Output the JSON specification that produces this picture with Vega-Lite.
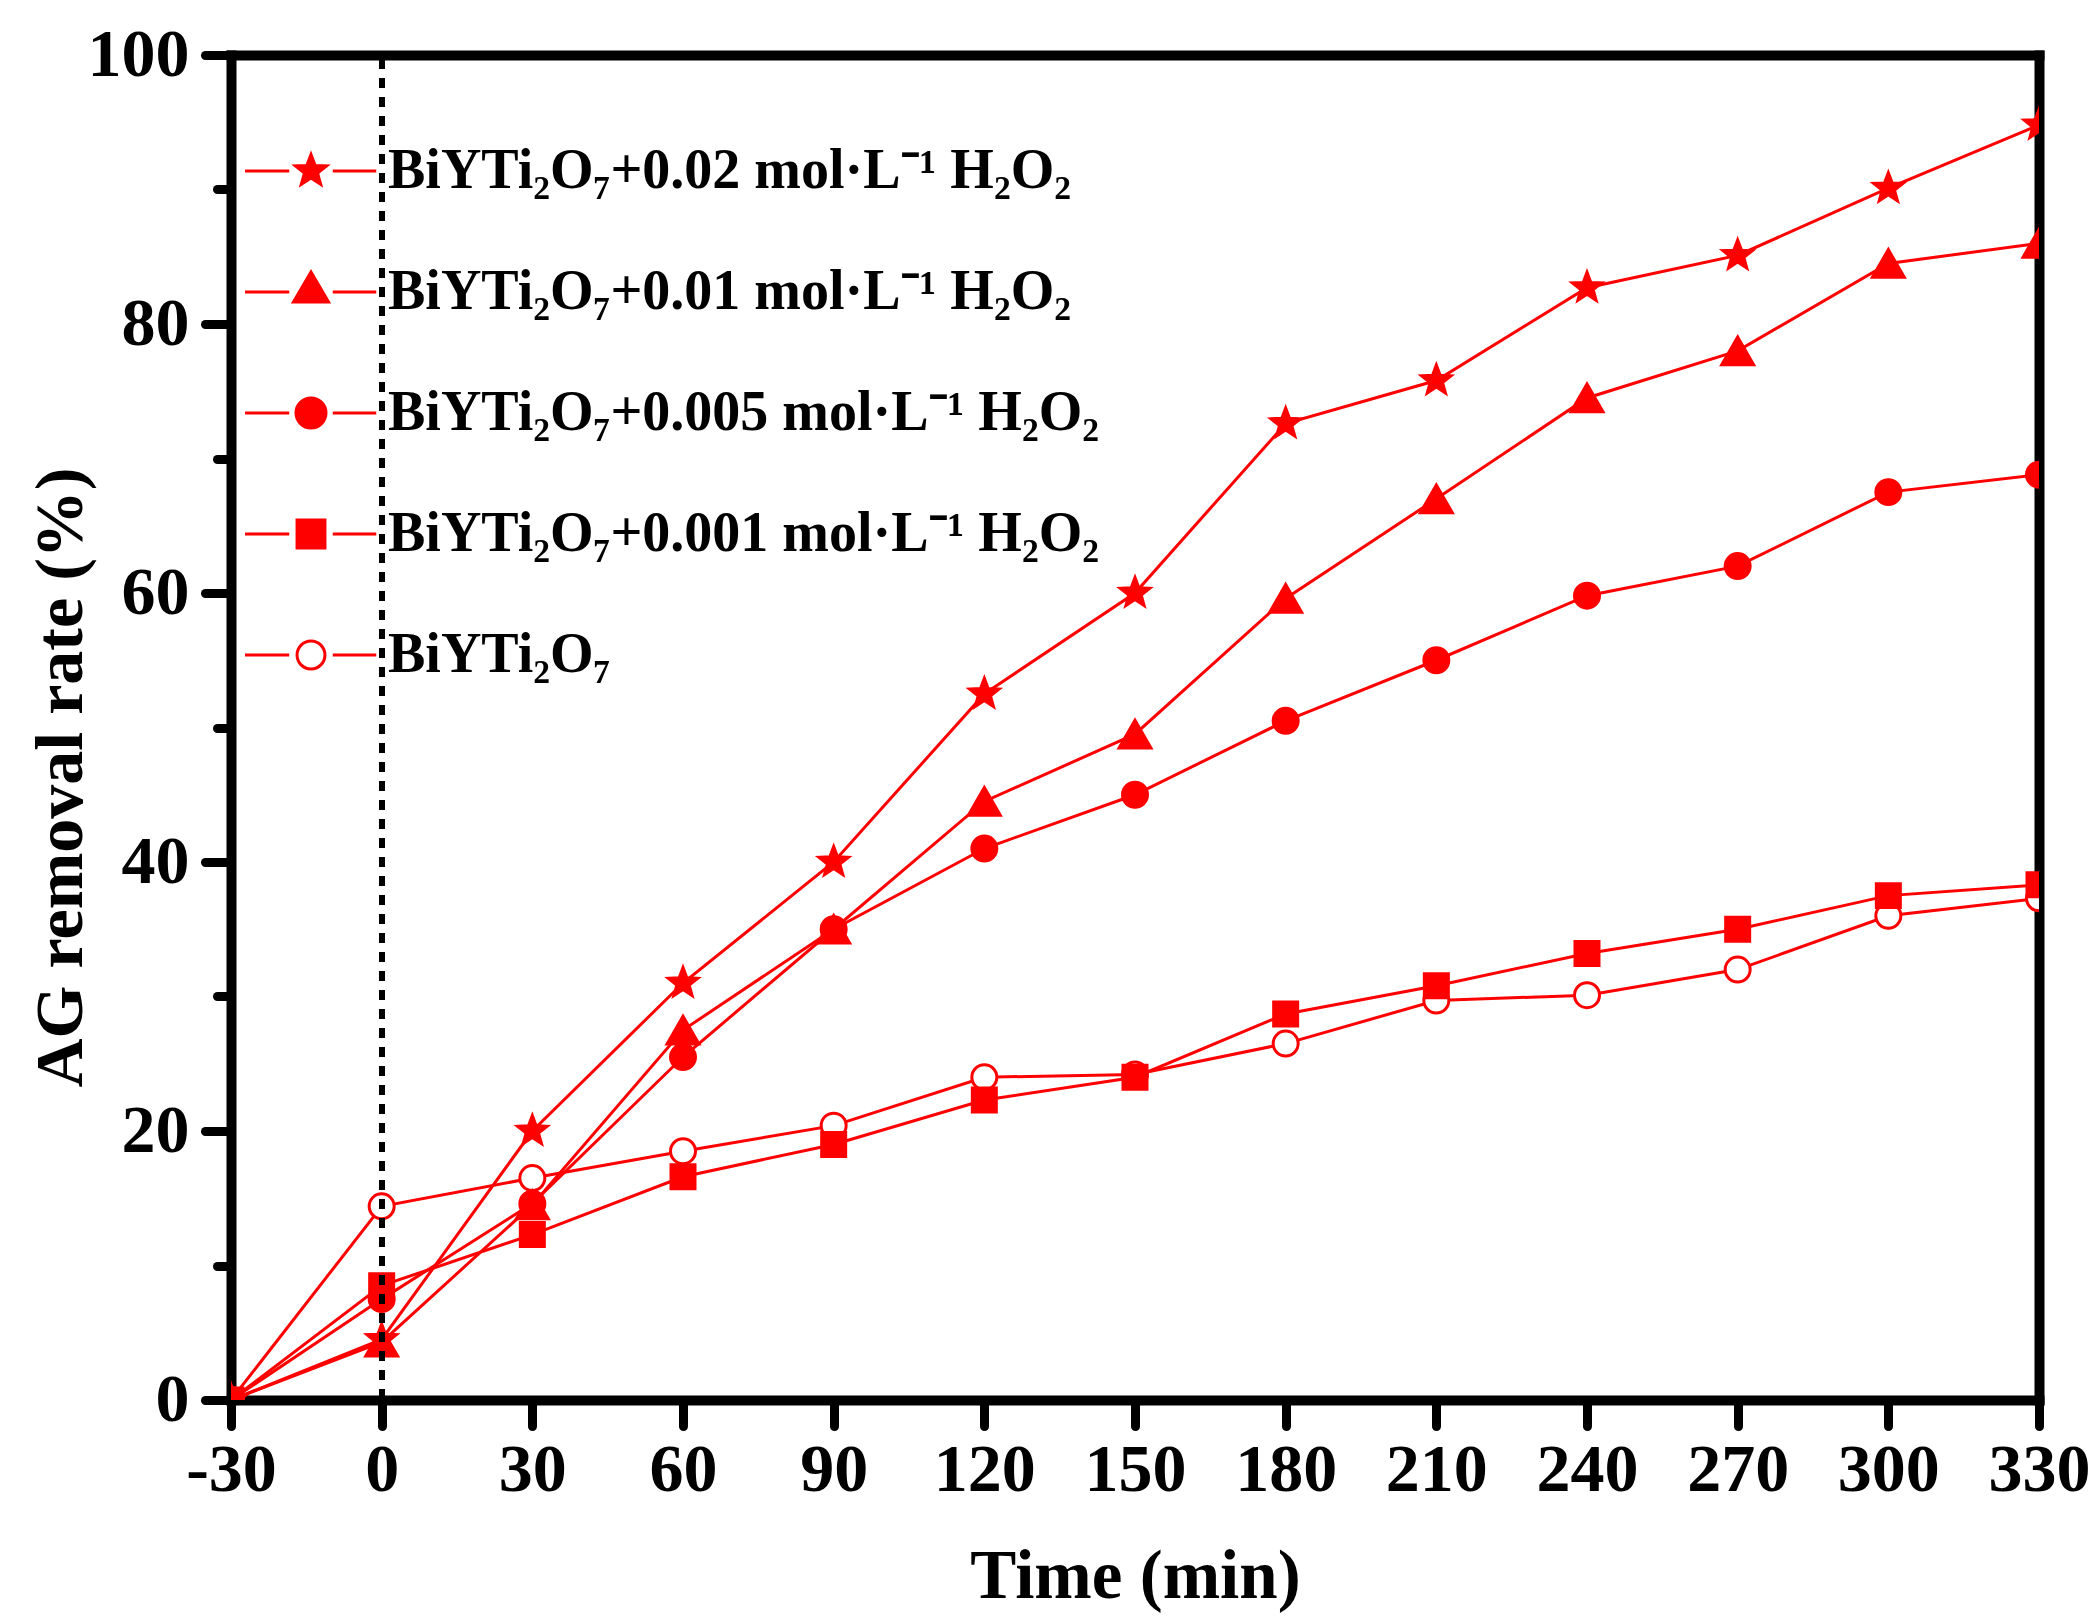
{
  "$schema": "https://vega.github.io/schema/vega-lite/v6.json",
  "width": 1808,
  "height": 1345,
  "autosize": {"type": "none"},
  "padding": {"left": 231, "top": 55, "right": 59, "bottom": 222},
  "background": "white",
  "config": {
    "view": {"stroke": null},
    "font": "Liberation Serif",
    "axis": {"grid": false, "domainColor": "black", "tickColor": "black", "labelColor": "black", "titleColor": "black", "zindex": 1}
  },
  "datasets": {
    "removal": [
      {"series": "BiYTi₂O₇", "time": -30, "rate": 0},
      {"series": "BiYTi₂O₇", "time": 0, "rate": 14.4},
      {"series": "BiYTi₂O₇", "time": 30, "rate": 16.5},
      {"series": "BiYTi₂O₇", "time": 60, "rate": 18.5},
      {"series": "BiYTi₂O₇", "time": 90, "rate": 20.4},
      {"series": "BiYTi₂O₇", "time": 120, "rate": 24.0},
      {"series": "BiYTi₂O₇", "time": 150, "rate": 24.2},
      {"series": "BiYTi₂O₇", "time": 180, "rate": 26.5},
      {"series": "BiYTi₂O₇", "time": 210, "rate": 29.7},
      {"series": "BiYTi₂O₇", "time": 240, "rate": 30.1},
      {"series": "BiYTi₂O₇", "time": 270, "rate": 32.0},
      {"series": "BiYTi₂O₇", "time": 300, "rate": 36.0},
      {"series": "BiYTi₂O₇", "time": 330, "rate": 37.3},
      {"series": "BiYTi₂O₇+0.001 mol·L⁻¹ H₂O₂", "time": -30, "rate": 0},
      {"series": "BiYTi₂O₇+0.001 mol·L⁻¹ H₂O₂", "time": 0, "rate": 8.5},
      {"series": "BiYTi₂O₇+0.001 mol·L⁻¹ H₂O₂", "time": 30, "rate": 12.3},
      {"series": "BiYTi₂O₇+0.001 mol·L⁻¹ H₂O₂", "time": 60, "rate": 16.6},
      {"series": "BiYTi₂O₇+0.001 mol·L⁻¹ H₂O₂", "time": 90, "rate": 19.0},
      {"series": "BiYTi₂O₇+0.001 mol·L⁻¹ H₂O₂", "time": 120, "rate": 22.3},
      {"series": "BiYTi₂O₇+0.001 mol·L⁻¹ H₂O₂", "time": 150, "rate": 24.0},
      {"series": "BiYTi₂O₇+0.001 mol·L⁻¹ H₂O₂", "time": 180, "rate": 28.7},
      {"series": "BiYTi₂O₇+0.001 mol·L⁻¹ H₂O₂", "time": 210, "rate": 30.8},
      {"series": "BiYTi₂O₇+0.001 mol·L⁻¹ H₂O₂", "time": 240, "rate": 33.2},
      {"series": "BiYTi₂O₇+0.001 mol·L⁻¹ H₂O₂", "time": 270, "rate": 35.0},
      {"series": "BiYTi₂O₇+0.001 mol·L⁻¹ H₂O₂", "time": 300, "rate": 37.5},
      {"series": "BiYTi₂O₇+0.001 mol·L⁻¹ H₂O₂", "time": 330, "rate": 38.3},
      {"series": "BiYTi₂O₇+0.005 mol·L⁻¹ H₂O₂", "time": -30, "rate": 0},
      {"series": "BiYTi₂O₇+0.005 mol·L⁻¹ H₂O₂", "time": 0, "rate": 7.5},
      {"series": "BiYTi₂O₇+0.005 mol·L⁻¹ H₂O₂", "time": 30, "rate": 14.6},
      {"series": "BiYTi₂O₇+0.005 mol·L⁻¹ H₂O₂", "time": 60, "rate": 25.5},
      {"series": "BiYTi₂O₇+0.005 mol·L⁻¹ H₂O₂", "time": 90, "rate": 35.0},
      {"series": "BiYTi₂O₇+0.005 mol·L⁻¹ H₂O₂", "time": 120, "rate": 41.0},
      {"series": "BiYTi₂O₇+0.005 mol·L⁻¹ H₂O₂", "time": 150, "rate": 45.0},
      {"series": "BiYTi₂O₇+0.005 mol·L⁻¹ H₂O₂", "time": 180, "rate": 50.5},
      {"series": "BiYTi₂O₇+0.005 mol·L⁻¹ H₂O₂", "time": 210, "rate": 55.0},
      {"series": "BiYTi₂O₇+0.005 mol·L⁻¹ H₂O₂", "time": 240, "rate": 59.8},
      {"series": "BiYTi₂O₇+0.005 mol·L⁻¹ H₂O₂", "time": 270, "rate": 62.0},
      {"series": "BiYTi₂O₇+0.005 mol·L⁻¹ H₂O₂", "time": 300, "rate": 67.5},
      {"series": "BiYTi₂O₇+0.005 mol·L⁻¹ H₂O₂", "time": 330, "rate": 68.8},
      {"series": "BiYTi₂O₇+0.01 mol·L⁻¹ H₂O₂", "time": -30, "rate": 0},
      {"series": "BiYTi₂O₇+0.01 mol·L⁻¹ H₂O₂", "time": 0, "rate": 4.3},
      {"series": "BiYTi₂O₇+0.01 mol·L⁻¹ H₂O₂", "time": 30, "rate": 14.5},
      {"series": "BiYTi₂O₇+0.01 mol·L⁻¹ H₂O₂", "time": 60, "rate": 27.5},
      {"series": "BiYTi₂O₇+0.01 mol·L⁻¹ H₂O₂", "time": 90, "rate": 35.0},
      {"series": "BiYTi₂O₇+0.01 mol·L⁻¹ H₂O₂", "time": 120, "rate": 44.5},
      {"series": "BiYTi₂O₇+0.01 mol·L⁻¹ H₂O₂", "time": 150, "rate": 49.5},
      {"series": "BiYTi₂O₇+0.01 mol·L⁻¹ H₂O₂", "time": 180, "rate": 59.6},
      {"series": "BiYTi₂O₇+0.01 mol·L⁻¹ H₂O₂", "time": 210, "rate": 67.0},
      {"series": "BiYTi₂O₇+0.01 mol·L⁻¹ H₂O₂", "time": 240, "rate": 74.5},
      {"series": "BiYTi₂O₇+0.01 mol·L⁻¹ H₂O₂", "time": 270, "rate": 78.0},
      {"series": "BiYTi₂O₇+0.01 mol·L⁻¹ H₂O₂", "time": 300, "rate": 84.5},
      {"series": "BiYTi₂O₇+0.01 mol·L⁻¹ H₂O₂", "time": 330, "rate": 86.0},
      {"series": "BiYTi₂O₇+0.02 mol·L⁻¹ H₂O₂", "time": -30, "rate": 0},
      {"series": "BiYTi₂O₇+0.02 mol·L⁻¹ H₂O₂", "time": 0, "rate": 4.5},
      {"series": "BiYTi₂O₇+0.02 mol·L⁻¹ H₂O₂", "time": 30, "rate": 20.0},
      {"series": "BiYTi₂O₇+0.02 mol·L⁻¹ H₂O₂", "time": 60, "rate": 31.0},
      {"series": "BiYTi₂O₇+0.02 mol·L⁻¹ H₂O₂", "time": 90, "rate": 40.0},
      {"series": "BiYTi₂O₇+0.02 mol·L⁻¹ H₂O₂", "time": 120, "rate": 52.5},
      {"series": "BiYTi₂O₇+0.02 mol·L⁻¹ H₂O₂", "time": 150, "rate": 60.0},
      {"series": "BiYTi₂O₇+0.02 mol·L⁻¹ H₂O₂", "time": 180, "rate": 72.6},
      {"series": "BiYTi₂O₇+0.02 mol·L⁻¹ H₂O₂", "time": 210, "rate": 75.8},
      {"series": "BiYTi₂O₇+0.02 mol·L⁻¹ H₂O₂", "time": 240, "rate": 82.7},
      {"series": "BiYTi₂O₇+0.02 mol·L⁻¹ H₂O₂", "time": 270, "rate": 85.1},
      {"series": "BiYTi₂O₇+0.02 mol·L⁻¹ H₂O₂", "time": 300, "rate": 90.1},
      {"series": "BiYTi₂O₇+0.02 mol·L⁻¹ H₂O₂", "time": 330, "rate": 94.8}
    ]
  },
  "data": {"name": "removal"},
  "layer": [
    {
      "mark": {"type": "line", "color": "#ff0000", "strokeWidth": 3, "clip": true},
      "encoding": {
        "x": {
          "field": "time",
          "type": "quantitative",
          "scale": {"domain": [-30, 330], "nice": false, "zero": false},
          "axis": {
            "orient": "bottom",
            "values": [-30, 0, 30, 60, 90, 120, 150, 180, 210, 240, 270, 300, 330],
            "labelExpr": "datum.value + ''",
            "labelFont": "Liberation Serif",
            "labelFontWeight": "bold",
            "labelFontSize": 68,
            "labelPadding": 10,
            "labelOverlap": false,
            "labelFlush": false,
            "tickSize": 26,
            "tickWidth": 9,
            "tickCap": "round",
            "domainWidth": 10,
            "domainCap": "square",
            "title": "Time (min)",
            "titleFont": "Liberation Serif",
            "titleFontWeight": "bold",
            "titleFontSize": 69,
            "titleBaseline": "alphabetic",
            "titleY": 197
          }
        },
        "y": {
          "field": "rate",
          "type": "quantitative",
          "scale": {"domain": [0, 100], "nice": false},
          "axis": {
            "orient": "left",
            "values": [0, 10, 20, 30, 40, 50, 60, 70, 80, 90, 100],
            "labelExpr": "datum.value % 20 === 0 ? datum.label : ''",
            "labelFont": "Liberation Serif",
            "labelFontWeight": "bold",
            "labelFontSize": 68,
            "labelPadding": 16,
            "labelOverlap": false,
            "labelFlush": false,
            "tickSize": {"condition": {"test": "datum.value % 20 === 0", "value": 26}, "value": 14},
            "tickWidth": 9,
            "tickCap": "round",
            "domainWidth": 10,
            "domainCap": "square",
            "title": "AG removal rate (%)",
            "titleFont": "Liberation Serif",
            "titleFontWeight": "bold",
            "titleFontSize": 68,
            "titleBaseline": "alphabetic",
            "titleAngle": 270,
            "titleX": -150,
            "titleY": 722
          }
        },
        "detail": {"field": "series", "type": "nominal"}
      }
    },
    {
      "mark": {"type": "point", "filled": true, "stroke": "#ff0000", "strokeWidth": 3, "size": 961, "opacity": 1, "clip": true},
      "encoding": {
        "x": {
          "field": "time",
          "type": "quantitative",
          "axis": {"orient": "top", "labels": false, "ticks": false, "title": null, "domainWidth": 10, "domainCap": "square"}
        },
        "y": {
          "field": "rate",
          "type": "quantitative",
          "axis": {"orient": "right", "labels": false, "ticks": false, "title": null, "domainWidth": 10, "domainCap": "square"}
        },
        "shape": {
          "field": "series",
          "type": "nominal",
          "scale": {
            "domain": ["BiYTi₂O₇", "BiYTi₂O₇+0.001 mol·L⁻¹ H₂O₂", "BiYTi₂O₇+0.005 mol·L⁻¹ H₂O₂", "BiYTi₂O₇+0.01 mol·L⁻¹ H₂O₂", "BiYTi₂O₇+0.02 mol·L⁻¹ H₂O₂"],
            "range": [
              "M0.806,0A0.806,0.806 0 1,1 -0.806,0A0.806,0.806 0 1,1 0.806,0Z",
              "M-0.774,-0.774H0.774V0.774H-0.774Z",
              "M0.806,0A0.806,0.806 0 1,1 -0.806,0A0.806,0.806 0 1,1 0.806,0Z",
              "M0,-0.894L1.03,0.894L-1.03,0.894Z",
              "M0,-1L0.247,-0.34L0.951,-0.309L0.399,0.13L0.588,0.809L0,0.42L-0.588,0.809L-0.399,0.13L-0.951,-0.309L-0.247,-0.34Z"
            ]
          },
          "legend": null
        },
        "fill": {
          "field": "series",
          "type": "nominal",
          "scale": {
            "domain": ["BiYTi₂O₇", "BiYTi₂O₇+0.001 mol·L⁻¹ H₂O₂", "BiYTi₂O₇+0.005 mol·L⁻¹ H₂O₂", "BiYTi₂O₇+0.01 mol·L⁻¹ H₂O₂", "BiYTi₂O₇+0.02 mol·L⁻¹ H₂O₂"],
            "range": ["#ffffff", "#ff0000", "#ff0000", "#ff0000", "#ff0000"]
          },
          "legend": null
        }
      }
    },
    {
      "transform": [{"filter": "false"}],
      "mark": {"type": "point", "filled": true, "stroke": "#ff0000", "strokeWidth": 3, "size": 900, "opacity": 1},
      "encoding": {
        "shape": {
          "field": "series",
          "type": "nominal",
          "scale": {
            "domain": ["BiYTi₂O₇+0.02 mol·L⁻¹ H₂O₂", "BiYTi₂O₇+0.01 mol·L⁻¹ H₂O₂", "BiYTi₂O₇+0.005 mol·L⁻¹ H₂O₂", "BiYTi₂O₇+0.001 mol·L⁻¹ H₂O₂", "BiYTi₂O₇"],
            "range": [
              "M-4.4,0H-1.45M1.45,0H4.35M0,-1.1L0.272,-0.374L1.046,-0.34L0.439,0.143L0.647,0.89L0,0.462L-0.647,0.89L-0.439,0.143L-1.046,-0.34L-0.272,-0.374Z",
              "M-4.4,0H-1.45M1.45,0H4.35M0,-1.33L1.17,0.67L-1.17,0.67Z",
              "M-4.4,0H-1.45M1.45,0H4.35M1,0A1,1 0 1,1 -1,0A1,1 0 1,1 1,0Z",
              "M-4.4,0H-1.45M1.45,0H4.35M-0.93,-0.93H0.93V0.93H-0.93Z",
              "M-4.4,0H-1.45M1.45,0H4.35M0.93,0A0.93,0.93 0 1,1 -0.93,0A0.93,0.93 0 1,1 0.93,0Z"
            ]
          },
          "legend": {
            "title": null,
            "orient": "none",
            "legendX": 52,
            "legendY": 88,
            "padding": 0,
            "symbolSize": 900,
            "symbolOpacity": 1,
            "symbolStrokeColor": "#ff0000",
            "symbolStrokeWidth": 3,
            "labelFont": "Liberation Serif",
            "labelFontWeight": "bold",
            "labelFontSize": 56,
            "labelColor": "black",
            "labelLimit": 0,
            "labelOffset": 49,
            "rowPadding": 65,
            "encode": {
              "symbols": {
                "update": {
                  "stroke": {"value": "#ff0000"},
                  "strokeWidth": {"value": 3},
                  "opacity": {"value": 1}
                }
              }
            }
          }
        },
        "fill": {
          "field": "series",
          "type": "nominal",
          "scale": {
            "domain": ["BiYTi₂O₇+0.02 mol·L⁻¹ H₂O₂", "BiYTi₂O₇+0.01 mol·L⁻¹ H₂O₂", "BiYTi₂O₇+0.005 mol·L⁻¹ H₂O₂", "BiYTi₂O₇+0.001 mol·L⁻¹ H₂O₂", "BiYTi₂O₇"],
            "range": ["#ff0000", "#ff0000", "#ff0000", "#ff0000", "#ffffff"]
          },
          "legend": {
            "title": null,
            "orient": "none",
            "legendX": 52,
            "legendY": 88,
            "padding": 0,
            "symbolSize": 900,
            "symbolOpacity": 1,
            "symbolStrokeColor": "#ff0000",
            "symbolStrokeWidth": 3,
            "labelFont": "Liberation Serif",
            "labelFontWeight": "bold",
            "labelFontSize": 56,
            "labelColor": "black",
            "labelLimit": 0,
            "labelOffset": 49,
            "rowPadding": 65,
            "encode": {
              "symbols": {
                "update": {
                  "stroke": {"value": "#ff0000"},
                  "strokeWidth": {"value": 3},
                  "opacity": {"value": 1}
                }
              }
            }
          }
        }
      }
    },
    {
      "mark": {"type": "rule", "color": "black", "strokeWidth": 5, "strokeDash": [10, 9], "strokeDashOffset": -4},
      "encoding": {
        "x": {"datum": 0, "type": "quantitative", "axis": null}
      }
    }
  ],
  "resolve": {
    "scale": {"shape": "independent", "fill": "independent"},
    "axis": {"x": "independent", "y": "independent"}
  }
}
